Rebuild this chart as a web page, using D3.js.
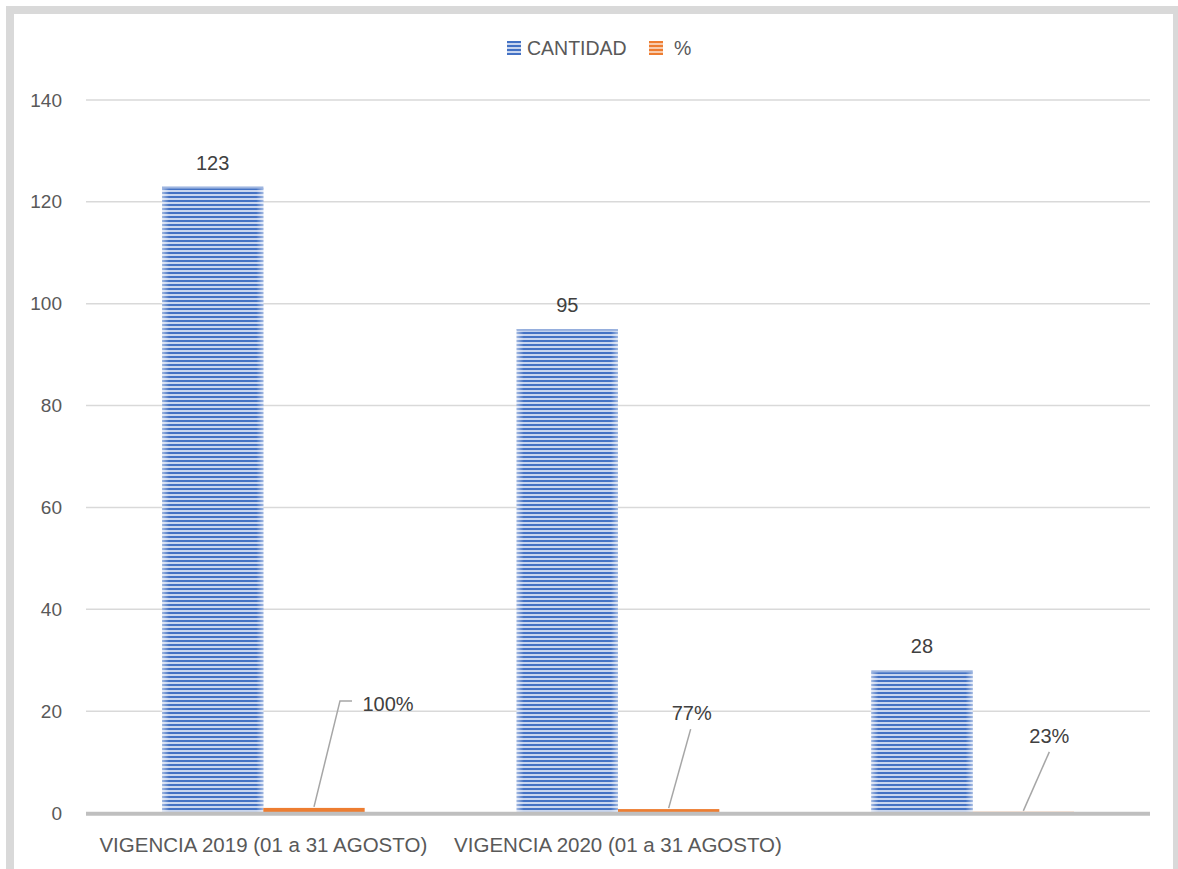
<!DOCTYPE html>
<html>
<head>
<meta charset="utf-8">
<script src="https://cdn.jsdelivr.net/npm/d3@7"></script>
<style>
  body { margin: 0; background: #fff; }
  text { font-family: "Liberation Sans", Arial, sans-serif; }
</style>
</head>
<body>
<div id="chart"></div>
<script>
// chart data
var categories = ["VIGENCIA 2019 (01 a 31 AGOSTO)", "VIGENCIA 2020 (01 a 31 AGOSTO)", ""];
var series = ["CANTIDAD", "%"];
var cantidad = [123, 95, 28];
var porcentaje = [1, 0.77, 0.23];
var porcentajeLabels = ["100%", "77%", "23%"];
var yTicks = [0, 20, 40, 60, 80, 100, 120, 140];

// label placement for the % labels (offset from bar top centre), and leader end
var pctLabelPos = [
  {dx: 74, dy: -104, lx: 26, ly: -106, ex: 38},
  {dx: 23, dy: -96, lx: 22, ly: -79, ex: null},
  {dx: 26, dy: -76, lx: 26, ly: -59, ex: null}
];

var W = 1178, H = 869;
var margin = {top: 100, left: 86, right: 28, bottom: 56};

var svg = d3.select("#chart")
  .append("svg")
    .attr("width", W)
    .attr("height", H);

// frame
svg.append("rect")
  .attr("x", 10).attr("y", 10)
  .attr("width", 1167).attr("height", 880)
  .attr("fill", "#fff")
  .attr("stroke", "#d9d9d9")
  .attr("stroke-width", 8);

var defs = svg.append("defs");
// stripe patterns
function stripes(id, fg, bg) {
  var p = defs.append("pattern")
    .attr("id", id)
    .attr("patternUnits", "userSpaceOnUse")
    .attr("width", 8).attr("height", 4);
  p.append("rect").attr("width", 8).attr("height", 4).attr("fill", bg);
  p.append("rect").attr("y", 0).attr("width", 8).attr("height", 2).attr("fill", fg);
}
stripes("blueStripe", "#4472c4", "#c9d6ef");
stripes("orangeStripe", "#ed7d31", "#f8cbad");

var glow = defs.append("linearGradient").attr("id", "edgeGlow")
  .attr("x1", "0%").attr("x2", "100%").attr("y1", "0%").attr("y2", "0%");
glow.append("stop").attr("offset", "0%").attr("stop-color", "#fff").attr("stop-opacity", 0.5);
glow.append("stop").attr("offset", "7%").attr("stop-color", "#fff").attr("stop-opacity", 0);
glow.append("stop").attr("offset", "93%").attr("stop-color", "#fff").attr("stop-opacity", 0);
glow.append("stop").attr("offset", "100%").attr("stop-color", "#fff").attr("stop-opacity", 0.5);

var x0 = d3.scaleBand()
  .domain(categories.map(function(d, i) { return i; }))
  .range([margin.left, W - margin.right])
  .paddingInner(1.5 / 3.5)
  .paddingOuter(0.75 / 3.5);
var x1 = d3.scaleBand()
  .domain(series)
  .range([0, x0.bandwidth()]);
var y = d3.scaleLinear()
  .domain([0, 140])
  .range([813, margin.top]);

// gridlines
svg.append("g")
  .selectAll("line")
  .data(yTicks.slice(1))
  .enter()
  .append("line")
    .attr("x1", margin.left).attr("x2", W - margin.right)
    .attr("y1", function(d) { return y(d); })
    .attr("y2", function(d) { return y(d); })
    .attr("stroke", "#d9d9d9")
    .attr("stroke-width", 1.5);

// y axis labels
var yAxis = svg.append("g")
  .attr("transform", "translate(86,0)")
  .call(d3.axisLeft(y).tickValues(yTicks).tickSize(0).tickPadding(24));
yAxis.select(".domain").remove();
yAxis.selectAll("text")
  .style("font-family", "Liberation Sans, Arial, sans-serif")
  .attr("font-size", 19)
  .attr("fill", "#595959");

// blue bars
var groups = svg.append("g")
  .selectAll("g")
  .data(categories)
  .enter()
  .append("g")
    .attr("transform", function(d, i) { return "translate(" + x0(i) + ",0)"; });

groups.append("rect")
  .attr("x", x1("CANTIDAD"))
  .attr("y", function(d, i) { return y(cantidad[i]); })
  .attr("width", x1.bandwidth())
  .attr("height", function(d, i) { return y(0) - y(cantidad[i]); })
  .attr("fill", "url(#blueStripe)");
groups.append("rect")
  .attr("x", x1("CANTIDAD"))
  .attr("y", function(d, i) { return y(cantidad[i]); })
  .attr("width", x1.bandwidth())
  .attr("height", function(d, i) { return y(0) - y(cantidad[i]); })
  .attr("fill", "url(#edgeGlow)");
groups.append("rect")
  .attr("x", x1("CANTIDAD"))
  .attr("y", function(d, i) { return y(cantidad[i]); })
  .attr("width", x1.bandwidth())
  .attr("height", 2)
  .attr("fill", "#9fb6e0");

// orange bars
groups.append("rect")
  .attr("x", x1("%"))
  .attr("y", function(d, i) { return y(porcentaje[i]); })
  .attr("width", x1.bandwidth())
  .attr("height", function(d, i) { return y(0) - y(porcentaje[i]); })
  .attr("fill", "#ed7d31");

// cantidad labels
groups.append("text")
  .attr("x", x1("CANTIDAD") + x1.bandwidth() / 2)
  .attr("y", function(d, i) { return y(cantidad[i]) - 17; })
  .attr("text-anchor", "middle")
  .attr("font-size", 20)
  .attr("fill", "#404040")
  .text(function(d, i) { return cantidad[i]; });

// % labels with leader lines
groups.append("path")
  .attr("fill", "none")
  .attr("stroke", "#a6a6a6")
  .attr("stroke-width", 1.5)
  .attr("d", function(d, i) {
    var cx = x1("%") + x1.bandwidth() / 2, cy = y(porcentaje[i]) - 1;
    var p = pctLabelPos[i];
    var s = "M" + cx + "," + cy + "L" + (cx + p.lx) + "," + (cy + p.ly);
    if (p.ex !== null) s += "L" + (cx + p.ex) + "," + (cy + p.ly);
    return s;
  });
groups.append("text")
  .attr("x", function(d, i) { return x1("%") + x1.bandwidth() / 2 + pctLabelPos[i].dx; })
  .attr("y", function(d, i) { return y(porcentaje[i]) + pctLabelPos[i].dy + 7; })
  .attr("text-anchor", "middle")
  .attr("font-size", 20)
  .attr("fill", "#404040")
  .text(function(d, i) { return porcentajeLabels[i]; });

// x axis baseline
svg.append("line")
  .attr("x1", margin.left).attr("x2", W - margin.right)
  .attr("y1", y(0) + 0.7).attr("y2", y(0) + 0.7)
  .attr("stroke", "#bfbfbf")
  .attr("stroke-width", 4);

// category labels
svg.append("g")
  .selectAll("text")
  .data(categories)
  .enter()
  .append("text")
    .attr("x", function(d, i) { return x0(i) + x0.bandwidth() / 2; })
    .attr("y", 852)
    .attr("text-anchor", "middle")
    .attr("font-size", 20.5)
    .attr("fill", "#595959")
    .text(function(d) { return d; });

// legend
var legendItems = [
  {name: series[0], fill: "url(#blueStripe)", x: 507},
  {name: series[1], fill: "url(#orangeStripe)", x: 649}
];
var legend = svg.append("g")
  .selectAll("g")
  .data(legendItems)
  .enter()
  .append("g")
    .attr("transform", function(d) { return "translate(" + d.x + ",41)"; });
legend.append("rect")
  .attr("width", 14).attr("height", 14)
  .attr("fill", function(d) { return d.fill; });
legend.append("text")
  .attr("x", function(d, i) { return i == 0 ? 20 : 25; })
  .attr("y", 14)
  .attr("font-size", 19.5)
  .attr("fill", "#595959")
  .text(function(d) { return d.name; });
</script>
</body>
</html>
